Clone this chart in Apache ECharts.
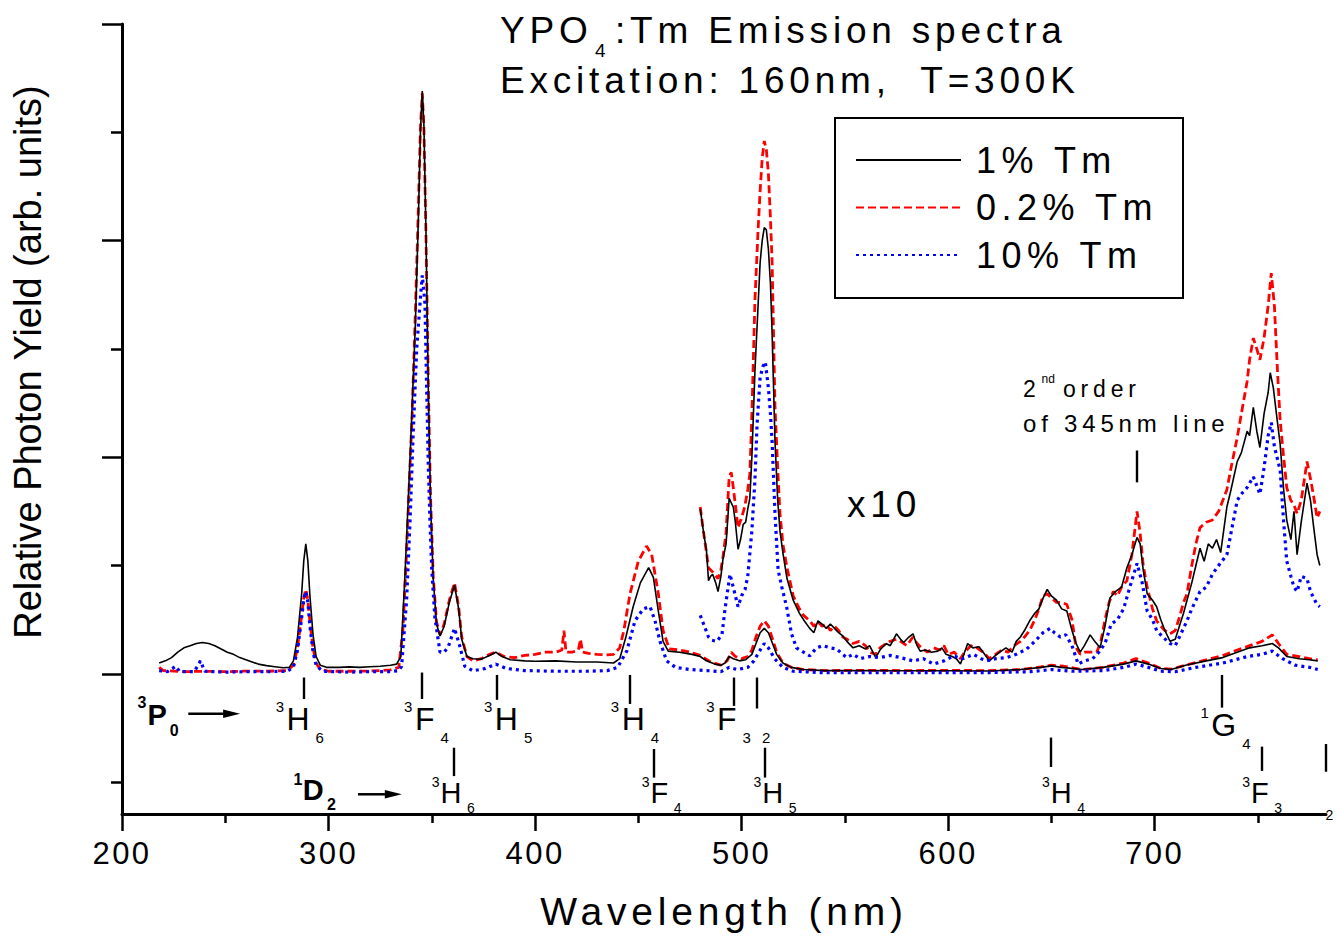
<!DOCTYPE html>
<html><head><meta charset="utf-8">
<script src="https://cdn.jsdelivr.net/npm/echarts@6.0.0/dist/echarts.min.js"></script>
<style>
html,body{margin:0;padding:0;background:#fff;}
#chart{width:1338px;height:936px;}
#chart text[style*="lsA"]{letter-spacing:4.8px;}
#chart text[style*="lsB"]{letter-spacing:2.5px;}
#chart text[style*="lsC"]{letter-spacing:5.5px;}
</style></head><body><div id="chart"></div><script>
// ---------- data: [wavelength nm, relative photon yield] ----------
const seriesNames = ['1% Tm', '0.2% Tm', '10% Tm'];
const wavelengthTicks = [200, 300, 400, 500, 600, 700];
const wavelengthMinorTicks = [250, 350, 450, 550, 650, 750];
const yieldTicks = [0, 1, 2, 3];
const yieldMinorTicks = [-0.5, 0.5, 1.5, 2.5];

const black1 = [[218,0.05],[221,0.06],[224,0.075],[227,0.10],[230,0.12],[233,0.13],[236,0.14],[239,0.145],[242,0.14],[245,0.13],[248,0.115],[251,0.10],[254,0.09],[257,0.075],[260,0.065],[263,0.055],[266,0.045],[270,0.038],[274,0.033],[278,0.028],[281,0.03],[283,0.06],[285,0.17],[287,0.37],[288,0.52],[289,0.60],[290,0.52],[291,0.36],[292.5,0.18],[294,0.08],[296,0.04],[299,0.03],[305,0.03],[310,0.032],[315,0.03],[320,0.033],[325,0.035],[330,0.04],[333,0.045],[335,0.08],[337,0.45],[338.5,0.78],[340,1.12],[342,1.6],[343.5,2.1],[344.5,2.5],[345.4,2.69],[346.2,2.53],[347.2,2.03],[348.3,1.33],[349.4,0.8],[350.7,0.44],[352.3,0.23],[354,0.175],[356,0.22],[358.5,0.33],[361,0.41],[363,0.30],[364.5,0.16],[367,0.08],[370,0.07],[374,0.068],[378,0.085],[381,0.10],[384,0.08],[388,0.065],[395,0.06],[400,0.058],[410,0.06],[420,0.055],[430,0.055],[438,0.05],[441,0.07],[444,0.17],[447.5,0.31],[451,0.42],[455,0.49],[457.3,0.445],[459.7,0.29],[462,0.15],[464.5,0.105],[470,0.10],[476,0.09],[480,0.08],[483,0.06],[487,0.045],[490,0.04],[492,0.05],[494,0.08],[496,0.07],[499,0.06],[502,0.065],[505,0.09],[507,0.14],[509,0.19],[511,0.21],[513,0.19],[515,0.14],[517,0.09],[520,0.05],[524,0.03],[530,0.02],[540,0.015],[560,0.015],[580,0.014],[600,0.014],[620,0.013],[635,0.02],[645,0.03],[650,0.037],[655,0.03],[665,0.02],[675,0.03],[685,0.045],[691,0.06],[697,0.045],[703,0.025],[708,0.02],[715,0.04],[725,0.06],[733,0.075],[740,0.1],[746,0.12],[752,0.13],[757,0.14],[760,0.12],[764,0.08],[770,0.07],[775,0.065],[779,0.06]];

const red02 = [[218,0.03],[220,0.015],[230,0.01],[240,0.012],[250,0.01],[260,0.013],[270,0.012],[280,0.015],[283,0.04],[285,0.12],[287,0.27],[288,0.35],[289,0.39],[290,0.34],[291,0.24],[292.5,0.12],[294,0.05],[296,0.02],[300,0.012],[310,0.012],[320,0.013],[330,0.018],[334,0.03],[336,0.2],[337.5,0.5],[339,0.85],[340.5,1.2],[342,1.65],[343.5,2.15],[344.5,2.52],[345.4,2.68],[346.2,2.52],[347.2,2.02],[348.3,1.35],[349.4,0.82],[350.7,0.45],[352.3,0.24],[354,0.18],[356,0.23],[358.5,0.34],[361,0.42],[363,0.31],[364.5,0.17],[367,0.08],[370,0.06],[374,0.07],[378,0.09],[381,0.10],[385,0.08],[390,0.075],[395,0.085],[400,0.09],[405,0.1],[410,0.1],[413,0.11],[414,0.2],[415,0.1],[418,0.1],[421,0.11],[422,0.16],[423,0.1],[426,0.095],[430,0.09],[435,0.088],[438,0.09],[441,0.12],[443,0.2],[446,0.37],[450,0.52],[454,0.59],[456.5,0.55],[459.7,0.37],[462,0.2],[465,0.115],[470,0.11],[475,0.1],[480,0.085],[485,0.055],[490,0.04],[493,0.06],[495,0.1],[497,0.08],[500,0.07],[503,0.08],[505,0.11],[507,0.17],[509,0.22],[511,0.245],[513,0.22],[515,0.16],[517,0.1],[520,0.05],[524,0.03],[530,0.02],[540,0.015],[560,0.016],[580,0.015],[600,0.016],[620,0.015],[635,0.02],[645,0.032],[650,0.04],[656,0.035],[665,0.02],[675,0.03],[685,0.05],[691,0.07],[697,0.05],[703,0.025],[708,0.022],[715,0.04],[725,0.065],[733,0.085],[740,0.11],[746,0.13],[752,0.15],[757,0.18],[760,0.14],[764,0.09],[770,0.08],[775,0.07],[779,0.065]];

const blue10 = [[218,0.015],[222,0.01],[226,0.035],[228,0.01],[235,0.01],[238,0.06],[240,0.012],[250,0.008],[260,0.01],[270,0.01],[280,0.012],[283,0.03],[285,0.11],[287,0.26],[288,0.34],[289,0.38],[290,0.33],[291,0.22],[292.5,0.1],[294,0.04],[297,0.012],[310,0.008],[320,0.01],[330,0.01],[334,0.015],[335.4,0.035],[337.8,0.34],[339.5,0.71],[341,1.11],[342.7,1.5],[344.3,1.71],[345.4,1.84],[346.7,1.71],[347.5,1.33],[348.3,0.97],[349.1,0.71],[350,0.48],[351.5,0.26],[354,0.1],[356,0.1],[358,0.125],[361,0.21],[363.5,0.13],[366,0.035],[370,0.014],[376,0.025],[381,0.045],[386,0.025],[395,0.015],[410,0.012],[425,0.012],[435,0.015],[440,0.03],[444.4,0.105],[448.4,0.245],[452.4,0.30],[455.7,0.31],[458.1,0.245],[460.5,0.15],[463.7,0.06],[468,0.03],[475,0.02],[485,0.014],[490,0.01],[494,0.03],[498,0.02],[503,0.03],[506,0.06],[509,0.11],[511,0.14],[513,0.12],[516,0.07],[520,0.03],[525,0.012],[540,0.005],[580,0.005],[620,0.006],[640,0.01],[650,0.02],[660,0.012],[675,0.015],[685,0.03],[691,0.045],[697,0.03],[703,0.012],[710,0.01],[720,0.03],[733,0.05],[745,0.08],[752,0.09],[757,0.105],[762,0.07],[768,0.04],[775,0.03],[779,0.02]];

// x10 magnified parts (already multiplied by 10 as plotted)
const black1x10 = [[480,0.76],[481.5,0.66],[483,0.57],[484,0.43],[485,0.45],[486,0.46],[487.5,0.42],[488.6,0.38],[490,0.45],[491,0.53],[492.5,0.6],[494,0.81],[495,0.79],[496,0.77],[497,0.70],[498.3,0.575],[499.5,0.62],[500.8,0.69],[502,0.7],[503,0.76],[504,0.81],[505,1.0],[506.5,1.40],[508,1.70],[509,1.90],[510,2.0],[511,2.06],[512,2.05],[513,1.96],[514,1.8],[514.8,1.57],[516.2,1.07],[517.5,0.8],[518.6,0.66],[520,0.56],[522,0.44],[525,0.34],[528,0.28],[530,0.25],[533,0.21],[535,0.19],[537,0.245],[539,0.23],[541,0.21],[543,0.23],[545,0.21],[547,0.19],[549,0.175],[551,0.15],[554,0.12],[557,0.13],[560,0.115],[562,0.13],[565,0.075],[567,0.11],[570,0.14],[572,0.13],[575,0.185],[577,0.16],[578.5,0.145],[581,0.17],[583,0.185],[585,0.13],[586.5,0.105],[589,0.11],[592,0.1],[595,0.105],[597,0.12],[599,0.09],[602,0.08],[604,0.07],[606,0.045],[608,0.1],[609.5,0.14],[612,0.12],[615,0.125],[617,0.1],[620,0.06],[623,0.085],[625,0.1],[628,0.12],[631,0.1],[633,0.15],[635,0.17],[637,0.2],[639.5,0.245],[642,0.28],[644,0.3],[646,0.35],[648,0.39],[650,0.36],[652.5,0.34],[655,0.3],[657.5,0.29],[660,0.2],[662,0.14],[664,0.1],[666,0.13],[668.8,0.18],[671,0.15],[673.6,0.12],[676,0.22],[678.4,0.35],[681,0.38],[684,0.4],[686.6,0.49],[689,0.55],[691.5,0.63],[693,0.6],[694.5,0.48],[696.4,0.37],[699,0.34],[701,0.31],[703,0.25],[705,0.2],[707.5,0.15],[710,0.16],[712,0.22],[714,0.28],[715.7,0.34],[718,0.42],[720,0.5],[722,0.58],[724,0.52],[726,0.6],[728,0.58],[730,0.62],[732,0.56],[735,0.77],[737,0.85],[740,0.98],[742,1.02],[744.8,1.12],[746,1.1],[747.8,1.23],[749.5,1.12],[751,1.045],[753,1.2],[755,1.3],[756,1.39],[757.5,1.32],[759,1.2],[760.8,1.06],[762.5,0.85],[764,0.71],[766,0.62],[767.5,0.75],[769,0.55],[771,0.7],[773.8,0.88],[775.5,0.8],[777,0.68],[778.7,0.55],[780,0.5]];

const red02x10 = [[480,0.77],[481.5,0.66],[483,0.56],[484,0.49],[486,0.47],[488.6,0.44],[490,0.48],[491,0.54],[492.5,0.65],[494,0.91],[495,0.93],[496,0.86],[497,0.78],[498.3,0.675],[500,0.72],[501.5,0.77],[503,0.85],[504,0.92],[505,1.2],[506.5,1.73],[508,2.05],[509,2.23],[510,2.38],[511,2.46],[512,2.42],[513,2.31],[514,2.1],[514.8,1.90],[516.2,1.23],[517.5,0.95],[518.6,0.74],[520,0.6],[522,0.49],[525,0.36],[528,0.3],[530,0.27],[533,0.245],[535,0.22],[537,0.24],[539,0.22],[541,0.23],[543,0.2],[545,0.22],[547,0.2],[549,0.17],[551,0.16],[554,0.14],[557,0.15],[560,0.13],[562,0.1],[565,0.09],[567,0.12],[570,0.14],[572,0.15],[575,0.16],[577,0.15],[580,0.13],[583,0.17],[585,0.14],[587,0.12],[590,0.1],[593,0.12],[596,0.11],[598,0.13],[600,0.09],[603,0.1],[606,0.07],[608,0.1],[611,0.13],[614,0.12],[617,0.1],[620,0.07],[623,0.09],[626,0.11],[629,0.1],[632,0.13],[635,0.15],[637,0.17],[639.5,0.2],[642,0.25],[644,0.3],[646,0.36],[648,0.37],[650,0.35],[652.5,0.33],[655,0.33],[657.5,0.32],[660,0.25],[662,0.12],[664,0.09],[666,0.1],[669,0.1],[672,0.1],[674,0.15],[676,0.25],[678,0.33],[680,0.38],[682,0.36],[684,0.4],[686.6,0.43],[689,0.55],[691.5,0.75],[693,0.65],[694.5,0.5],[696.4,0.4],[699,0.3],[701,0.245],[703,0.22],[705,0.2],[707.5,0.185],[710,0.2],[712,0.26],[714,0.33],[715.7,0.37],[718,0.5],[720,0.6],[722,0.675],[725,0.7],[728,0.71],[731,0.75],[735,0.85],[737,0.95],[740,1.09],[742,1.2],[744.8,1.35],[746,1.45],[747.8,1.55],[749.5,1.5],[751,1.45],[753,1.55],[755,1.7],[756.5,1.85],[758,1.7],[759.5,1.4],[760.8,1.17],[762.5,1.0],[764,0.86],[766,0.8],[767.5,0.78],[769,0.74],[771,0.8],[773.8,0.98],[775.5,0.9],[777,0.82],[778.7,0.72],[780,0.75]];

const blue10x10 = [[480,0.27],[482,0.22],[484,0.17],[485.7,0.155],[488,0.15],[490.5,0.18],[492,0.3],[494.4,0.46],[496,0.4],[498.3,0.31],[500,0.36],[501.7,0.39],[503,0.45],[505,0.66],[506.5,0.9],[507.5,1.15],[509,1.37],[510.4,1.42],[511.5,1.44],[513,1.32],[514,1.2],[514.8,1.07],[516.2,0.74],[517.7,0.48],[519.5,0.4],[521.8,0.31],[524.2,0.185],[526.6,0.12],[530,0.1],[533,0.083],[536.3,0.12],[539.5,0.13],[543,0.12],[546,0.115],[550.9,0.075],[554,0.09],[557.4,0.07],[562,0.08],[567,0.075],[572,0.085],[577,0.075],[583,0.06],[588,0.07],[593,0.045],[598,0.06],[602.6,0.083],[607,0.07],[612.3,0.09],[616,0.07],[618.8,0.06],[623,0.07],[628.4,0.075],[633,0.09],[638.1,0.115],[642,0.15],[646,0.19],[649.4,0.21],[651.5,0.19],[654.3,0.17],[657,0.18],[660,0.13],[663,0.045],[666,0.06],[670,0.07],[673,0.1],[676,0.14],[679,0.23],[682,0.25],[685,0.3],[688,0.4],[691.5,0.51],[694,0.42],[696.4,0.29],[699,0.25],[701,0.2],[704,0.17],[707.5,0.14],[710,0.13],[712,0.17],[715.7,0.245],[718,0.3],[720,0.34],[722,0.38],[725,0.4],[728,0.46],[731,0.5],[735,0.55],[737,0.65],[740,0.8],[742,0.83],[744.8,0.86],[747.8,0.91],[751,0.83],[753,0.95],[755,1.1],[756.5,1.16],[758,1.05],[760.8,0.94],[762.5,0.7],[764,0.52],[766,0.45],[767.5,0.4],[769,0.38],[771,0.45],[773.8,0.44],[775.5,0.38],[777,0.35],[778.7,0.32],[780,0.31]];

// ---------- transition annotations ----------
// 3P0 -> row : tick wavelengths and their top / bottom yield values
const row1TickLam = [287.8, 345.2, 381.5, 445.7, 496.4, 507.4, 732.6];
const row1TickTop = [-0.017, 0.006, -0.005, -0.005, -0.017, -0.017, -0.005];
const row1TickBot = [-0.116, -0.116, -0.12, -0.139, -0.148, -0.16, -0.156];
const row1LabelLam = [274.4, 336.6, 375.3, 436.7, 482.9, 722.2];
const row1LabelY = [-0.192, -0.192, -0.192, -0.192, -0.192, -0.22];
const row1Sup = ['3', '3', '3', '3', '3', '1'];
const row1Main = ['H', 'F', 'H', 'H', 'F', 'G'];
const row1Sub = ['6', '4', '5', '4', '3', '4'];
const row1Sub2 = ['', '', '', '', '2', ''];
// 1D2 -> row
const row2TickLam = [360.5, 457.7, 511.1, 649.5, 752, 783];
const row2TickTop = [-0.341, -0.347, -0.341, -0.294, -0.336, -0.324];
const row2TickBot = [-0.472, -0.479, -0.479, -0.43, -0.448, -0.452];
const row2LabelLam = [350, 451.7, 505.8, 645.5, 742.4, 782.7];
const row2LabelY = -0.538;
const row2Sup = ['3', '3', '3', '3', '3', ''];
const row2Main = ['H', 'F', 'H', 'H', 'F', ''];
const row2Sub = ['6', '4', '5', '4', '3', '2'];
// initial levels and arrows
const levelLam = [207.5, 283.0];
const levelY = [-0.165, -0.519];
const arrowFromLam = [232.1, 314.3];
const arrowToLam = [257.2, 335.5];
const arrowY = [-0.184, -0.556];
// 2nd-order marker
const orderTick = [691.5, 1.031, 0.884];

// ---------- build options ----------
const FONT = 'Liberation Sans';
const line = (name, data, style, z) => ({
  name, type: 'line', data, symbol: 'none', showSymbol: false, z,
  lineStyle: style, itemStyle: {color: style.color}, emphasis: {disabled: true}, silent: true, animation: false
});
const blackStyle = {color: '#000000', width: 1.6, type: 'solid'};
const redStyle = {color: '#ff0000', width: 2.8, type: [8, 4]};
const blueStyle = {color: '#0000ff', width: 3.2, type: [3, 4]};

const markData = [];
row1TickLam.forEach((l, i) => markData.push([{coord: [l, row1TickTop[i]]}, {coord: [l, row1TickBot[i]]}]));
row2TickLam.forEach((l, i) => markData.push([{coord: [l, row2TickTop[i]]}, {coord: [l, row2TickBot[i]]}]));
markData.push([{coord: [orderTick[0], orderTick[1]]}, {coord: [orderTick[0], orderTick[2]]}]);

const labelData = [];
row1LabelLam.forEach((l, i) => {
  let f = '{s|' + row1Sup[i] + '}{m|' + row1Main[i] + '}{b|' + row1Sub[i] + '}';
  if (row1Sub2[i]) f += '{c|' + row1Sub2[i] + '}';
  labelData.push({value: [l, row1LabelY[i]], label: {formatter: f}});
});
row2LabelLam.forEach((l, i) => {
  let f = row2Main[i] ? ('{s2|' + row2Sup[i] + '}{m2|' + row2Main[i] + '}{b2|' + row2Sub[i] + '}') : ('{b3|' + row2Sub[i] + '}');
  labelData.push({value: [l, row2LabelY], label: {formatter: f}});
});
labelData.push({value: [levelLam[0], levelY[0]], label: {formatter: '{ps|3}{pm|P}{pb|0}'}});
labelData.push({value: [levelLam[1], levelY[1]], label: {formatter: '{ds|1}{dm|D}{db|2}'}});

const rs = (size, pad, extra) => Object.assign({fontSize: size, fontFamily: FONT, color: '#000', opacity: 1, lineHeight: size <= 16 ? 16 : size + 1, verticalAlign: 'top', padding: pad}, extra || {});
const B = {fontWeight: 'bold'};

const axisCommon = {splitLine: {show: false}};
const option = {
  animation: false,
  backgroundColor: '#ffffff',
  grid: {left: 122, right: 12, top: 24, bottom: 122, containLabel: false, outerBoundsMode: 'none'},
  legend: {
    show: true, orient: 'vertical', left: 855, top: 140, padding: 0, itemGap: 7.5,
    itemWidth: 105, itemHeight: 40, data: seriesNames, selectedMode: false,
    itemStyle: {color: 'rgba(0,0,0,0)', borderColor: 'rgba(0,0,0,0)', borderWidth: 0, opacity: 0},
    textStyle: {fontSize: 36, fontFamily: FONT + ', lsC', color: '#000', padding: [0, 0, 0, 10], lineHeight: 40}
  },
  xAxis: [
    Object.assign({
      type: 'value', position: 'bottom', min: 200, max: 783,
      axisLine: {show: true, onZero: false, lineStyle: {color: '#000', width: 3}},
      axisTick: {show: true, customValues: wavelengthTicks, length: 17, lineStyle: {color: '#000', width: 2.5}},
      axisLabel: {show: true, customValues: wavelengthTicks, fontSize: 31, fontFamily: FONT + ', lsB', color: '#000', margin: 24},
      name: 'Wavelength (nm)', nameLocation: 'middle', nameGap: 78,
      nameTextStyle: {fontSize: 39, fontFamily: FONT + ', lsA', color: '#000'}
    }, axisCommon),
    Object.assign({
      type: 'value', position: 'bottom', min: 200, max: 783,
      axisLine: {show: false, onZero: false},
      axisTick: {show: true, customValues: wavelengthMinorTicks, length: 9, lineStyle: {color: '#000', width: 2.5}},
      axisLabel: {show: false}
    }, axisCommon)
  ],
  yAxis: [
    Object.assign({
      type: 'value', position: 'left', min: -0.647, max: 3,
      axisLine: {show: true, onZero: false, lineStyle: {color: '#000', width: 3}},
      axisTick: {show: true, customValues: yieldTicks, length: 20, lineStyle: {color: '#000', width: 2.5}},
      axisLabel: {show: false}
    }, axisCommon),
    Object.assign({
      type: 'value', position: 'left', min: -0.647, max: 3,
      axisLine: {show: false, onZero: false},
      axisTick: {show: true, customValues: yieldMinorTicks, length: 11, lineStyle: {color: '#000', width: 2.5}},
      axisLabel: {show: false}
    }, axisCommon)
  ],
  series: [
    line(seriesNames[0], black1, blackStyle, 3),
    line(seriesNames[1], red02, redStyle, 2),
    line(seriesNames[2], blue10, blueStyle, 4),
    line(seriesNames[0], black1x10, blackStyle, 3),
    line(seriesNames[1], red02x10, redStyle, 2),
    line(seriesNames[2], blue10x10, blueStyle, 4),
    {
      name: 'annotations', type: 'scatter', symbolSize: 0, silent: true, z: 6, clip: false,
      data: labelData, animation: false,
      itemStyle: {opacity: 1, color: '#000'},
      label: {
        show: true, position: 'right', distance: 0, color: '#000', opacity: 1,
        rich: {
          s: rs(15, [0, 2.5, 0, 0]), m: rs(32, [4, 0, 0, 0]), b: rs(15, [31, 0, 0, 6]), c: rs(15, [31, 0, 0, 11]),
          s2: rs(14, [0, 1, 0, 0]), m2: rs(29, [3, 0, 0, 0]), b2: rs(14, [26, 0, 0, 5.5]), b3: rs(14, [26, 0, 0, 0]),
          ps: rs(16, [0, 1, 0, 0], B), pm: rs(29, [6, 0, 0, 0], B), pb: rs(16, [28, 0, 0, 3], B),
          ds: rs(16, [0, 0.5, 0, 0], B), dm: rs(29, [4, 0, 0, 0], B), db: rs(16, [25.5, 0, 0, 3.3], B)
        }
      },
      markLine: {
        silent: true, animation: false, symbol: ['none', 'none'],
        lineStyle: {color: '#000', width: 2.4, type: 'solid', opacity: 1}, label: {show: false},
        emphasis: {disabled: true}, data: markData
      }
    }
  ]
};

const chart = echarts.init(document.getElementById('chart'), null, {renderer: 'svg'});
chart.setOption(option);

// graphics (text annotations, legend frame, arrows via the chart's own scales)
const px = (l, y) => chart.convertToPixel({xAxisIndex: 0, yAxisIndex: 0}, [l, y]);
const txt = (x, y, text, size, fam, extra) => ({type: 'text', x, y, silent: true, z: 10,
  style: Object.assign({text, fontSize: size, fontFamily: fam, fill: '#000', align: 'left', verticalAlign: 'middle'}, extra || {})});
const graphics = [
  txt(500, 30, 'YPO', 37, FONT + ', lsA'),
  txt(595, 50, '4', 19, FONT),
  txt(615, 30, ':Tm Emission spectra', 37, FONT + ', lsA'),
  txt(500, 80, 'Excitation: 160nm,  T=300K', 37, FONT + ', lsA'),
  txt(847, 504, 'x10', 37, FONT + ', lsA'),
  txt(1023, 388.5, '2', 23, FONT),
  txt(1041.5, 379, 'nd', 12, FONT),
  txt(1063, 388.7, 'order', 23, FONT + ', lsA'),
  txt(1023, 423.4, 'of 345nm line', 24, FONT + ', lsA'),
  {type: 'text', x: 28, y: 362, rotation: Math.PI / 2, silent: true, z: 10,
   style: {text: 'Relative Photon Yield (arb. units)', fontSize: 38, fontFamily: FONT, fill: '#000', align: 'center', verticalAlign: 'middle'}},
  {type: 'rect', shape: {x: 835, y: 118, width: 348, height: 180}, silent: true, z: 9,
   style: {fill: 'none', stroke: '#000', lineWidth: 2}}
];
for (let i = 0; i < arrowFromLam.length; i++) {
  const a = px(arrowFromLam[i], arrowY[i]);
  const b = px(arrowToLam[i], arrowY[i]);
  graphics.push({type: 'line', silent: true, z: 10, shape: {x1: a[0], y1: a[1], x2: b[0] - 14, y2: b[1]},
    style: {stroke: '#000', lineWidth: 2.5}});
  graphics.push({type: 'polygon', silent: true, z: 10, shape: {points: [[b[0] - 17, b[1] - 4.3], [b[0], b[1]], [b[0] - 17, b[1] + 4.3]]},
    style: {fill: '#000'}});
}
chart.setOption({graphic: graphics});
</script></body></html>
